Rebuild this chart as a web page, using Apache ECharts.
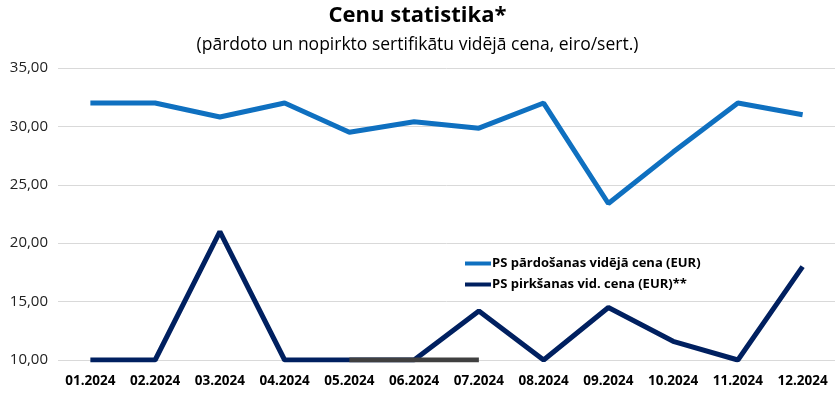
<!DOCTYPE html>
<html><head><meta charset="utf-8">
<script src="https://cdn.jsdelivr.net/npm/echarts@6/dist/echarts.min.js"></script>
<style>html,body{margin:0;padding:0;background:#fff}#c{width:835px;height:402px}</style>
</head><body><div id="c"></div>
<script>
const categories = ['01.2024','02.2024','03.2024','04.2024','05.2024','06.2024','07.2024','08.2024','09.2024','10.2024','11.2024','12.2024'];
const sellPrice = [32, 32, 30.8, 32, 29.5, 30.4, 29.85, 32, 23.4, 27.8, 32, 31.0];
const buyPrice = [10, 10, 21, 10, 10, 10, 14.2, 10, 14.5, 11.6, 10, 18];
const greySeg = [null, null, null, null, 10, 10, 10, null, null, null, null, null];
const yTicks = {min: 10, max: 35, interval: 5};
const chart = echarts.init(document.getElementById('c'));
const F = '"Open Sans", sans-serif';
chart.setOption({
  animation: false,
  title: [
    {text: 'Cenu statistika*', left: 'center', top: 0, textStyle: {fontFamily: F, fontSize: 22, fontWeight: 'bold', color: '#000'}},
    {text: '(pārdoto un nopirkto sertifikātu vidējā cena, eiro/sert.)', left: 'center', top: 31, textStyle: {fontFamily: F, fontSize: 17.5, fontWeight: 'normal', color: '#000'}}
  ],
  grid: {left: 58, right: 0, top: 68, bottom: 42},
  legend: {
    orient: 'vertical', left: 460, top: 252, itemGap: 8, itemWidth: 26, itemHeight: 14,
    data: [{name: 'PS pārdošanas vidējā cena (EUR)', icon: 'path://M0,5 L26,5 L26,9 L0,9 Z'}, {name: 'PS pirkšanas vid. cena (EUR)**', icon: 'path://M0,5 L26,5 L26,9 L0,9 Z'}],
    textStyle: {fontFamily: F, fontSize: 13, fontWeight: 'bold', color: '#000', padding: [0,0,0,-4]}
  },
  xAxis: {
    type: 'category', data: categories, boundaryGap: true,
    axisLine: {show: false}, axisTick: {show: false},
    axisLabel: {interval: 0, fontFamily: F, fontSize: 13.5, fontWeight: 'bold', color: '#000', margin: 14}
  },
  yAxis: {
    type: 'value', min: yTicks.min, max: yTicks.max, interval: yTicks.interval,
    axisLine: {show: false}, axisTick: {show: false},
    splitLine: {lineStyle: {color: '#d9d9d9', width: 1}},
    axisLabel: {fontFamily: F, fontSize: 15, color: '#222', margin: 10, formatter: v => v.toFixed(2).replace('.', ',')}
  },
  series: [
    {name: 'PS pārdošanas vidējā cena (EUR)', type: 'line', data: sellPrice, symbol: 'none', lineStyle: {color: '#0F70C0', width: 5}, itemStyle: {color: '#0F70C0'}},
    {name: 'PS pirkšanas vid. cena (EUR)**', type: 'line', data: buyPrice, symbol: 'none', lineStyle: {color: '#002060', width: 5}, itemStyle: {color: '#002060'}},
    {name: 'grey', type: 'line', data: greySeg, symbol: 'none', lineStyle: {color: '#404040', width: 5}, itemStyle: {color: '#404040'}}
  ]
});
</script></body></html>
